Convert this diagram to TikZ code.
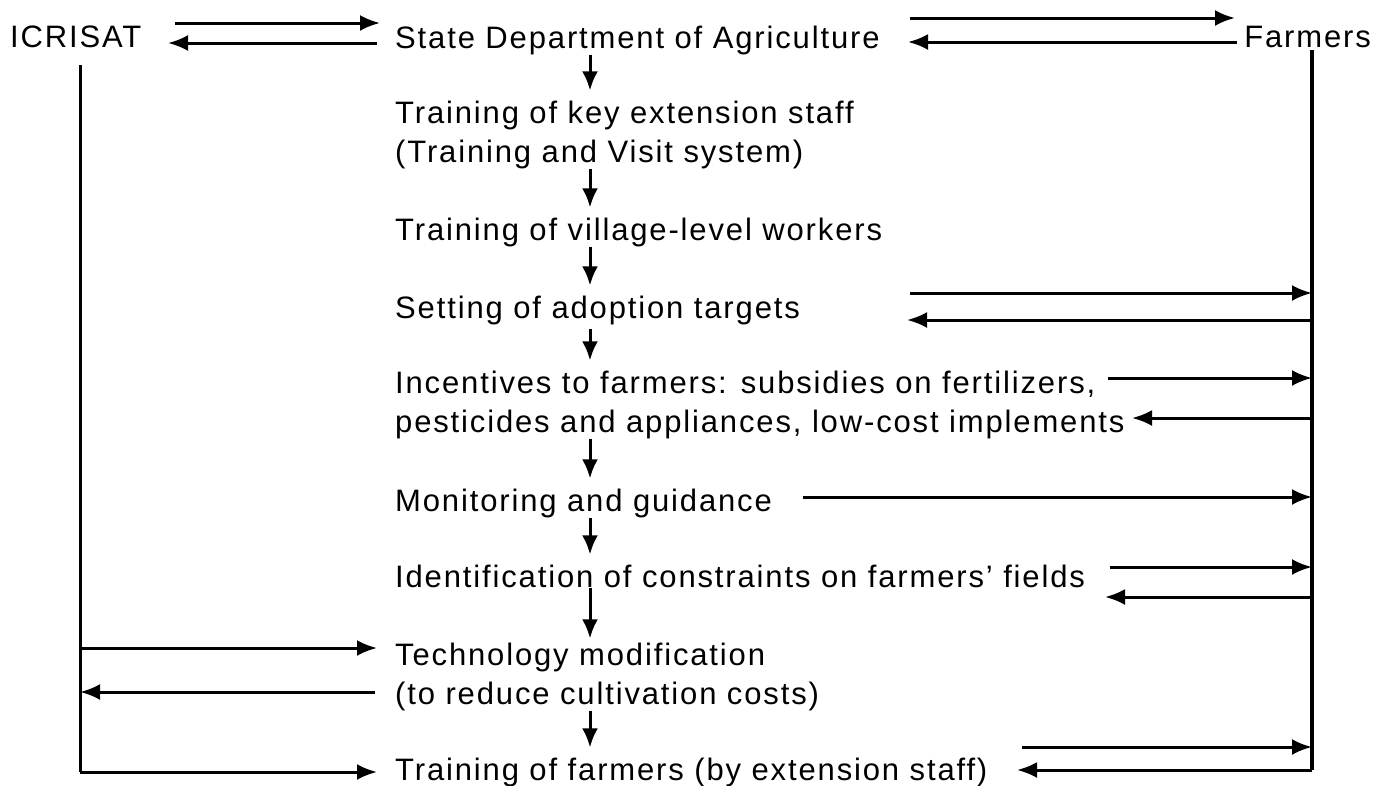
\documentclass[tikz,border=0pt]{standalone}
\usepackage{fontspec}
\setmainfont{Liberation Sans}[LetterSpace=6]
\usetikzlibrary{arrows.meta}
\begin{document}
\begin{tikzpicture}[x=1pt,y=-1pt,
  lbl/.style={inner sep=0pt, anchor=base west, align=left, font=\fontsize{31}{39}\selectfont},
  arr/.style={line width=3pt, -{Latex[length=20pt,width=16pt]}},
  varr/.style={line width=3pt, -{Latex[length=19pt,width=16pt]}, shorten >=10pt},
  ln/.style={line width=3.6pt}]
\useasboundingbox (0,0) rectangle (1373,785);
% nodes
\node[lbl] (icr) at (10,47) {ICRISAT};
\node[lbl, anchor=base east] (far) at (1371,47) {Farmers};
\node[lbl] (sda) at (395,48) {State Department of Agriculture};
\node[lbl] (t1) at (395,162) {Training of key extension staff\\(Training and Visit system)};
\node[lbl] (t2) at (395,240) {Training of village-level workers};
\node[lbl] (set) at (395,318) {Setting of adoption targets};
\node[lbl] (inc) at (395,432) {Incentives to farmers: subsidies on fertilizers,\\pesticides and appliances, low-cost implements};
\node[lbl] (mon) at (395,511) {Monitoring and guidance};
\node[lbl] (idc) at (395,587) {Identification of constraints on farmers{\char"27} fields};
\node[lbl] (tec) at (395,704) {Technology modification\\(to reduce cultivation costs)};
\node[lbl] (tf) at (395,780) {Training of farmers (by extension staff)};
% column and side lines
\coordinate (cx) at (590,0);
\coordinate (L0) at (80,65);
\coordinate (L1) at (80,772);
\coordinate (R0) at (1312,50);
\coordinate (R1) at (1312,770);
% central flow
\draw[varr] (cx |- sda.south) -- (cx |- t1.north);
\draw[varr] (cx |- t1.south) -- (cx |- t2.north);
\draw[varr] (cx |- t2.south) -- (cx |- set.north);
\draw[varr, shorten <=4pt] (cx |- set.south) -- (cx |- inc.north);
\draw[varr] (cx |- inc.south) -- (cx |- mon.north);
\draw[varr] (cx |- mon.south) -- (cx |- idc.north);
\draw[varr, shorten >=4pt] (cx |- idc.south) -- (cx |- tec.north);
\draw[varr] (cx |- tec.south) -- (cx |- tf.north);
% top links
\draw[arr] (175,23) -- (380,23);
\draw[arr] (377,43) -- (168,43);
\draw[arr] (910,18) -- (1235,18);
\draw[arr] (1237,42) -- (908,42);
% left (ICRISAT) line
\draw[ln, line width=3pt] (L0) -- (L1);
\draw[arr] (L0 |- 0,648) -- (377,648);
\draw[arr] (375,692) -- (L0 |- 0,692);
\draw[arr] (L1) -- (377,772);
% right (Farmers) line
\draw[ln] (R0) -- (R1);
\draw[arr] (910,293) -- (R0 |- 0,293);
\draw[arr] (R0 |- 0,320) -- (907,320);
\draw[arr] (1108,378) -- (R0 |- 0,378);
\draw[arr] (R0 |- 0,418) -- (1132,418);
\draw[arr] (803,497) -- (R0 |- 0,497);
\draw[arr] (1110,567) -- (R0 |- 0,567);
\draw[arr] (R0 |- 0,597) -- (1105,597);
\draw[arr] (1022,747) -- (R0 |- 0,747);
\draw[arr] (R1) -- (1017,770);
\end{tikzpicture}
\end{document}
